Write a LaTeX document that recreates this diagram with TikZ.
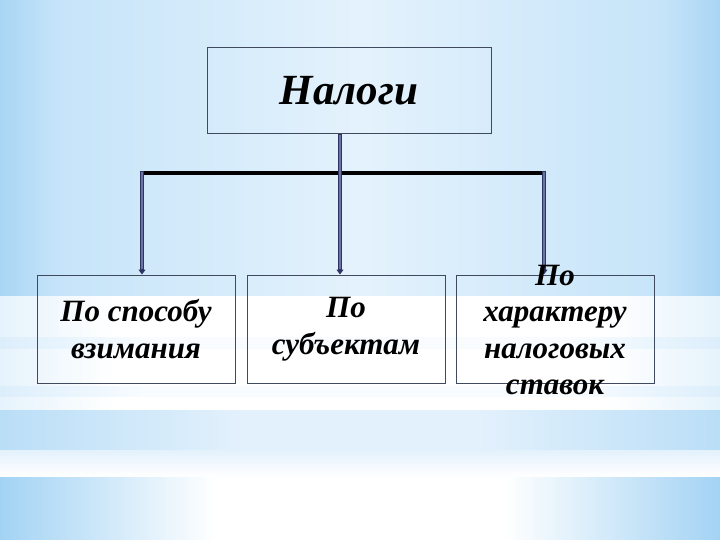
\documentclass[tikz,border=0pt]{standalone}
\usepackage{fontspec}
\setmainfont{Liberation Serif}
\usetikzlibrary{arrows.meta,calc}
\definecolor{conncol}{HTML}{2F3562}
\definecolor{conncore}{HTML}{6B73A3}
\definecolor{boxcol}{HTML}{3F4A5E}
\definecolor{tE}{HTML}{A9D5F4}
\definecolor{tM}{HTML}{C6E4F9}
\definecolor{tC}{HTML}{E4F2FC}
\definecolor{wE}{HTML}{E6F3FC}
\definecolor{sE}{HTML}{DCEEFB}
\definecolor{sC}{HTML}{F8FCFF}
\definecolor{lE}{HTML}{BADEF7}
\definecolor{lC}{HTML}{E3F1FC}
\definecolor{bE}{HTML}{A3D3F4}
\pgfdeclarehorizontalshading{bgtopsh}{100bp}{color(0bp)=(tE); color(25bp)=(tE); color(29bp)=(tM); color(50bp)=(tC); color(71bp)=(tM); color(75bp)=(tE); color(100bp)=(tE)}
\pgfdeclarehorizontalshading{bgwhitesh}{100bp}{color(0bp)=(wE); color(25bp)=(wE); color(33bp)=(white); color(67bp)=(white); color(75bp)=(wE); color(100bp)=(wE)}
\pgfdeclarehorizontalshading{bgstreaksh}{100bp}{color(0bp)=(sE); color(25bp)=(sE); color(35bp)=(sC); color(65bp)=(sC); color(75bp)=(sE); color(100bp)=(sE)}
\pgfdeclarehorizontalshading{bglowsh}{100bp}{color(0bp)=(lE); color(25bp)=(lE); color(42bp)=(lC); color(58bp)=(lC); color(75bp)=(lE); color(100bp)=(lE)}
\pgfdeclarehorizontalshading{bgbotsh}{100bp}{color(0bp)=(bE); color(25bp)=(bE); color(40bp)=(white); color(60bp)=(white); color(75bp)=(bE); color(100bp)=(bE)}
\begin{document}
\begin{tikzpicture}[x=1pt,y=-1pt,
  box/.style={draw=boxcol,line width=1pt,inner sep=0pt},
  topbox/.style={box,minimum width=284pt,minimum height=86pt},
  subbox/.style={box,minimum width=198pt,minimum height=108pt},
  titletext/.style={font=\bfseries\itshape\fontsize{43}{50}\selectfont,inner sep=0pt},
  lbl/.style={font=\bfseries\itshape\fontsize{31}{36.5}\selectfont,align=center,inner sep=0pt},
  vconn/.style={draw=conncol,line width=4pt,-{Triangle[length=5pt,width=7pt]}},
  vcore/.style={draw=conncore,line width=1.6pt,shorten >=6pt,shorten <=1pt},
  hline/.style={draw=black,line width=3.2pt}]
\useasboundingbox (0,0) rectangle (720,540);
% background
\shade[shading=bgtopsh] (0,0) rectangle (720,296);
\shade[shading=bgwhitesh] (0,296) rectangle (720,410);
\shade[shading=bgstreaksh] (0,337) rectangle (720,348);
\shade[shading=bgstreaksh] (0,386) rectangle (720,396);
\shade[shading=bglowsh] (0,410) rectangle (720,450);
\shade[top color=lC,bottom color=white] (0,450) rectangle (720,477);
\shade[shading=bgbotsh] (0,477) rectangle (720,540);
% boxes
\node[topbox] (top) at (349,91) {};
\node[subbox] (b1) at (136,329) {};
\node[subbox] (b2) at (346,329) {};
\node[subbox] (b3) at (555,329) {};
% connectors
\coordinate (jm) at ($(top.south)+(-9,0)$);
\coordinate (jl) at (142,173);
\coordinate (jr) at (544,173);
\draw[hline] ($(jl)+(-1,0)$) -- ($(jr)+(2,0)$);
\draw[vconn] (jm) -- (jm |- b2.north);
\draw[vconn] ($(jl)+(0,-2)$) -- (jl |- b1.north);
\draw[vconn] ($(jr)+(0,-2)$) -- (jr |- b3.north);
\draw[vcore] (jm) -- (jm |- b2.north);
\draw[vcore] ($(jl)+(0,-2)$) -- (jl |- b1.north);
\draw[vcore] ($(jr)+(0,-2)$) -- (jr |- b3.north);
% texts
\node[titletext] (t0) at (top) {Налоги};
\node[lbl] (t1) at (b1) {По способу\\взимания};
\node[lbl] (t2) at (b2) {По\\субъектам};
\node[lbl] (t3) at ($(b3)+(0,1)$) {По\\характеру\\налоговых\\ставок};
\end{tikzpicture}
\end{document}
